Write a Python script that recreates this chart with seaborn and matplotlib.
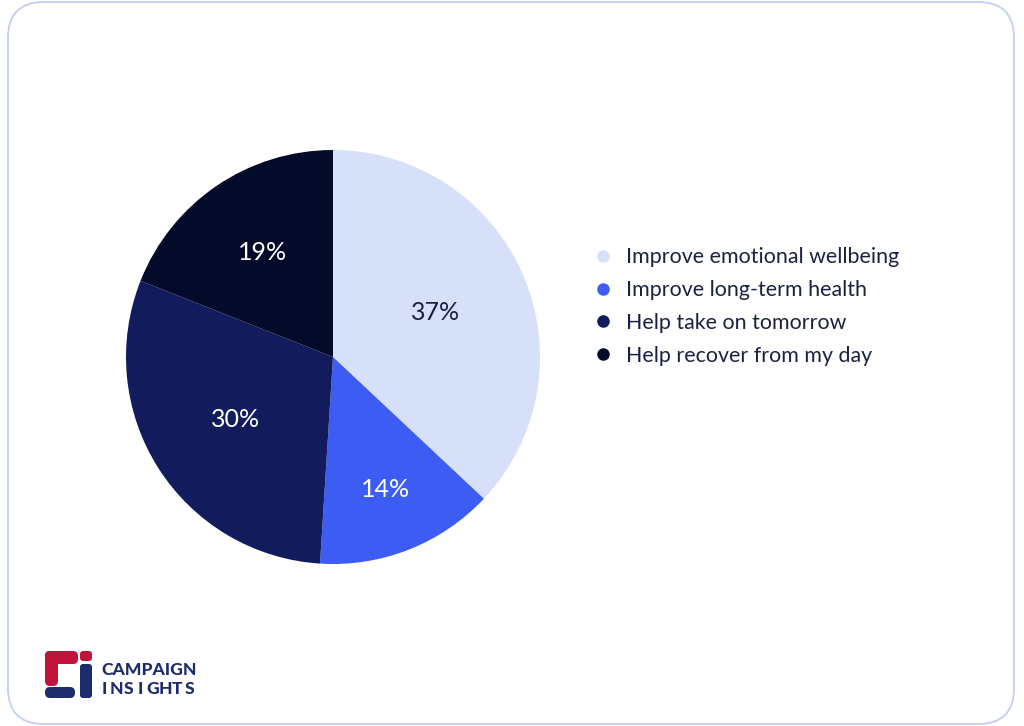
import matplotlib
matplotlib.use("Agg")
import matplotlib.pyplot as plt
import seaborn as sns
from matplotlib.lines import Line2D
from matplotlib.patches import FancyBboxPatch
import numpy as np

# данные графика
categories = ["Improve emotional wellbeing", "Improve long-term health",
              "Help take on tomorrow", "Help recover from my day"]
shares = [37, 14, 30, 19]
colors = ["#d6e0f9", "#3c5cf4", "#121c5c", "#040a29"]
label_colors = ["#1b2140", "white", "white", "white"]
label_dist = [0.54, 0.69, 0.56, 0.61]  # удаление подписей от центра

sns.set_theme(style="white")
plt.rcParams["font.family"] = ["Lato", "DejaVu Sans"]

fig = plt.figure(figsize=(10.24, 7.26), dpi=100)
fig.patch.set_facecolor("white")

# рамка с закруглёнными углами
W, H = 1024, 726
frame = FancyBboxPatch((8 / W, 2 / H), (1014 - 8) / W, (724 - 2) / H,
                       boxstyle="round,pad=0,rounding_size=0.035",
                       transform=fig.transFigure, facecolor="none",
                       edgecolor="#c3cdf6", linewidth=1.3,
                       mutation_aspect=W / H, zorder=-1)
fig.patches.append(frame)

# круговая диаграмма: центр (333, 357), радиус ~207 px
r = 207
ax = fig.add_axes([(333 - r) / W, (H - 357 - r) / H, 2 * r / W, 2 * r / H])
wedges, _, autotexts = ax.pie(shares, colors=sns.color_palette(colors),
                              startangle=90, counterclock=False,
                              autopct="%d%%", pctdistance=0.55,
                              radius=1.0, wedgeprops=dict(linewidth=0),
                              textprops=dict(fontsize=18, fontweight="normal"))
for w, t, c, d in zip(wedges, autotexts, label_colors, label_dist):
    t.set_color(c)
    ang = np.deg2rad((w.theta1 + w.theta2) / 2)
    t.set_position((d * np.cos(ang), d * np.sin(ang)))
ax.set_xlim(-1, 1)
ax.set_ylim(-1, 1)
ax.set_aspect("equal")
ax.axis("off")

# легенда
handles = [Line2D([0], [0], marker="o", linestyle="", markersize=8,
                  markerfacecolor=c, markeredgecolor=c) for c in colors]
fig.legend(handles, categories, loc="upper left",
           bbox_to_anchor=(573 / W, (H - 228) / H), frameon=False,
           fontsize=15.4, labelcolor="#1b2140", handletextpad=0.6,
           labelspacing=0.6, handlelength=1.0)

# логотип
red, navy = "#c1123b", "#1d2c6b"
def box(x0, y0, x1, y1, color, rs=3):
    p = FancyBboxPatch((x0 / W, (H - y1) / H), (x1 - x0) / W, (y1 - y0) / H,
                       boxstyle="round,pad=0,rounding_size=%f" % (rs / W),
                       transform=fig.transFigure, facecolor=color,
                       edgecolor="none", mutation_aspect=W / H)
    fig.patches.append(p)

box(45, 651, 78, 664, red, 5)
box(45, 651, 58, 686, red, 5)
box(45, 687, 75, 698, navy, 5)
box(80, 651, 92, 661, red)
box(80, 664, 92, 698, navy)
fig.text(101 / W, (H - 670) / H, "CAMPAIGN", fontsize=12.6, fontweight="black",
         color=navy, va="center", ha="left")
word = "INSIGHTS"
for i, ch in enumerate(word):
    fig.text((104 + i * 12.2) / W, (H - 689) / H, ch, fontsize=12.6,
             fontweight="black", color=navy, va="center", ha="center")

fig.savefig("out.png", dpi=100, facecolor="white")
